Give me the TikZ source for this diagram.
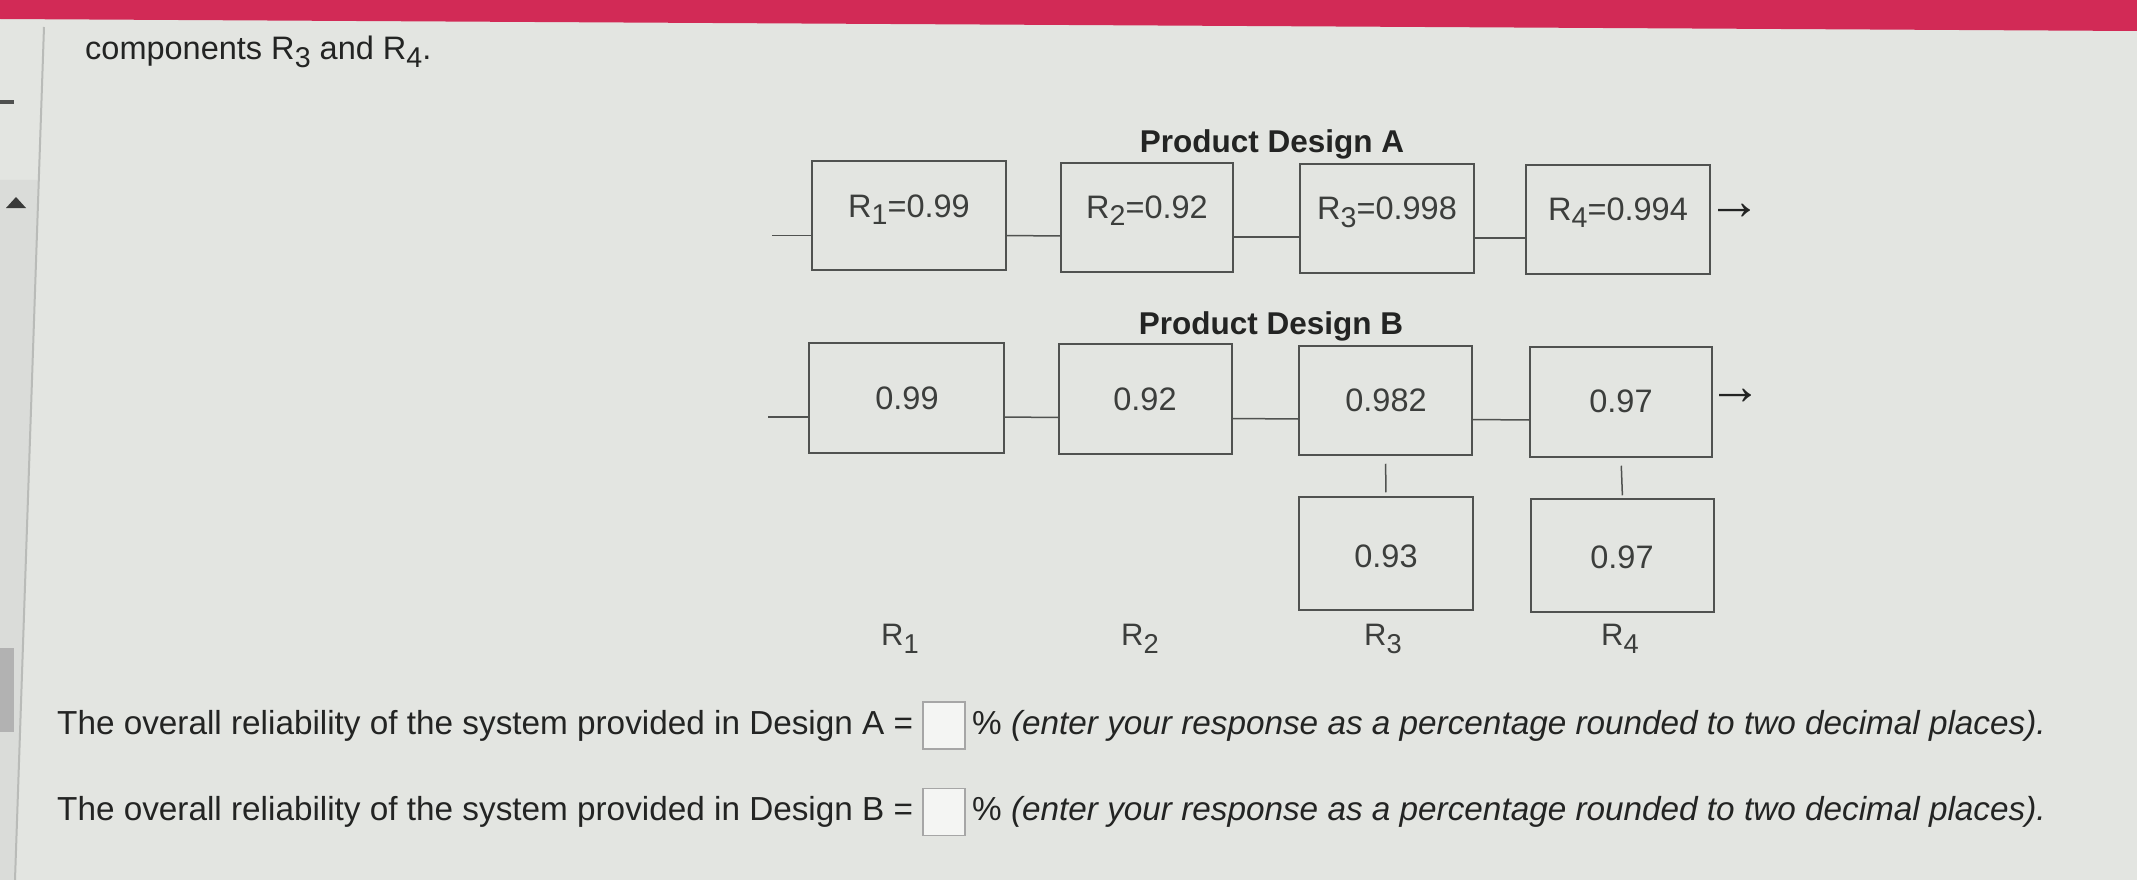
\documentclass[tikz,border=0pt]{standalone}
\usepackage{fontspec}
\setmainfont{Liberation Sans}
\usepackage{graphicx}
\definecolor{bg}{RGB}{227,229,225}
\definecolor{leftbg}{RGB}{218,220,217}
\definecolor{topred}{RGB}{210,42,86}
\definecolor{boxc}{RGB}{80,82,80}
\definecolor{valc}{RGB}{60,62,60}
\definecolor{bodyc}{RGB}{35,36,35}
\definecolor{divc}{RGB}{185,187,184}
\newcommand\mysub[1]{\raisebox{-8pt}{\scalebox{0.88}{#1}}}
\begin{document}
\begin{tikzpicture}[x=1pt,y=-1pt,
  rbox/.style={draw=boxc, line width=1.5pt, inner sep=0pt, minimum height=109pt},
  wire/.style={draw=boxc, line width=1.5pt},
  valtext/.style={font=\fontsize{32.5}{38}\selectfont, text=valc, inner sep=0pt, anchor=base},
  arrowtext/.style={font=\fontsize{54}{60}\selectfont, text=bodyc, inner sep=0pt},
  titletext/.style={font=\fontsize{31.5}{38}\selectfont\bfseries, text=bodyc, inner sep=0pt, anchor=base},
  qtext/.style={font=\fontsize{33.3}{40}\selectfont, text=bodyc, inner sep=0pt, anchor=base west},
  ansbox/.style={draw=gray!70, fill=white!60!bg, line width=1.5pt, inner sep=0pt, minimum width=42pt, minimum height=47pt}
]
% background
\useasboundingbox (0,0) rectangle (2137,880);
\fill[bg] (0,0) rectangle (2137,880);
\fill[leftbg] (0,180) -- (38,180) -- (15,880) -- (0,880) -- cycle;
\draw[divc, line width=2pt] (44,27) -- (15,880);
\fill[topred] (0,0) -- (2137,0) -- (2137,31) -- (0,19) -- cycle;
\draw[bodyc!80, line width=3.5pt] (0,102) -- (14,102);
\fill[bodyc!90] (6,208) -- (26,208) -- (16,197) -- cycle;
\fill[gray!60] (0,648) rectangle (14,732);

% intro text
\node[qtext, font=\fontsize{32.5}{38}\selectfont] (intro) at (85,60) {components R\mysub{3} and R\mysub{4}.};

% Design A
\node[titletext] (titleA) at (1272,153) {Product Design A};
\node[rbox, minimum width=194pt] (A1) at (909,215.5) {};
\node[rbox, minimum width=172pt] (A2) at (1147,217.5) {};
\node[rbox, minimum width=174pt] (A3) at (1387,218.5) {};
\node[rbox, minimum width=184pt] (A4) at (1618,219.5) {};
\node[valtext] (tA1) at (909,217) {R\mysub{1}=0.99};
\node[valtext] (tA2) at (1147,218) {R\mysub{2}=0.92};
\node[valtext] (tA3) at (1387,219) {R\mysub{3}=0.998};
\node[valtext] (tA4) at (1618,220) {R\mysub{4}=0.994};
\coordinate (inA) at (772,235.5);
\draw[wire] (inA) -- (inA -| A1.west);
\draw[wire] ([yshift=-20pt]A1.east) -- ([yshift=-18.5pt]A2.west);
\draw[wire] ([yshift=-19.5pt]A2.east) -- ([yshift=-18.5pt]A3.west);
\draw[wire] ([yshift=-19.5pt]A3.east) -- ([yshift=-18.5pt]A4.west);
\node[arrowtext] (outA) at (1734,212) {→};

% Design B
\node[titletext] (titleB) at (1271,334) {Product Design B};
\node[rbox, minimum width=195pt, minimum height=110pt] (B1) at (906.5,398) {};
\node[rbox, minimum width=173pt, minimum height=110pt] (B2) at (1145.5,399) {};
\node[rbox, minimum width=173pt] (B3) at (1385.5,400.5) {};
\node[rbox, minimum width=182pt, minimum height=110pt] (B4) at (1621,402) {};
\node[rbox, minimum width=174pt, minimum height=113pt] (B3b) at (1386,553.5) {};
\node[rbox, minimum width=183pt, minimum height=113pt] (B4b) at (1622.5,555.5) {};
\node[valtext] (tB1) at (907,409) {0.99};
\node[valtext] (tB2) at (1145,410) {0.92};
\node[valtext] (tB3) at (1386,411) {0.982};
\node[valtext] (tB4) at (1621,412) {0.97};
\node[valtext] (tB3b) at (1386,567) {0.93};
\node[valtext] (tB4b) at (1622,568) {0.97};
\coordinate (inB) at (768,417);
\draw[wire] (inB) -- (inB -| B1.west);
\draw[wire] ([yshift=-19pt]B1.east) -- ([yshift=-18.5pt]B2.west);
\draw[wire] ([yshift=-19.5pt]B2.east) -- ([yshift=-18.5pt]B3.west);
\draw[wire] ([yshift=-19pt]B3.east) -- ([yshift=-18pt]B4.west);
\draw[wire, shorten <=8pt, shorten >=4pt] (B3.south) -- (B3b.north);
\draw[wire, shorten <=8pt, shorten >=3pt] (B4.south) -- (B4b.north);
\node[arrowtext] (outB) at (1735,397) {→};

% column labels
\node[valtext, font=\fontsize{31}{37}\selectfont] (L1) at (900,645) {R\mysub{1}};
\node[valtext, font=\fontsize{31}{37}\selectfont] (L2) at (1140,645) {R\mysub{2}};
\node[valtext, font=\fontsize{31}{37}\selectfont] (L3) at (1383,645) {R\mysub{3}};
\node[valtext, font=\fontsize{31}{37}\selectfont] (L4) at (1620,645) {R\mysub{4}};

% questions
\node[qtext] (q1) at (57,734) {The overall reliability of the system provided in Design A =};
\node[ansbox] (ans1) at (944,725.5) {};
\node[qtext] (r1) at (972,734) {\%\ \itshape(enter your response as a percentage rounded to two decimal places).};
\node[qtext] (q2) at (57,820) {The overall reliability of the system provided in Design B =};
\node[ansbox] (ans2) at (944,812) {};
\node[qtext] (r2) at (972,820) {\%\ \itshape(enter your response as a percentage rounded to two decimal places).};
\end{tikzpicture}
\end{document}
